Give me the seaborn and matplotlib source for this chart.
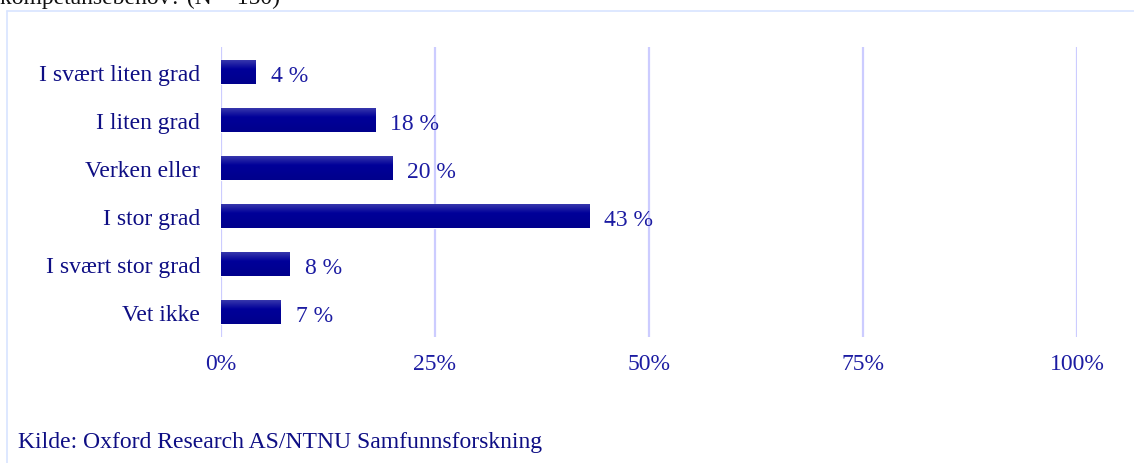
import matplotlib
matplotlib.use("Agg")
import matplotlib.pyplot as plt
from matplotlib.lines import Line2D
from matplotlib.colors import LinearSegmentedColormap
import numpy as np
import pandas as pd
import seaborn as sns

#%% Data

categories = ["I svært liten grad", "I liten grad", "Verken eller",
              "I stor grad", "I svært stor grad", "Vet ikke"]
values = [4, 18, 20, 43, 8, 7]
tick_values = [0, 25, 50, 75, 100]
tick_labels = ["0%", "25%", "50%", "75%", "100%"]
title_text = "kompetansebehov? (N = 150)"
source_text = "Kilde: Oxford Research AS/NTNU Samfunnsforskning"

df = pd.DataFrame({"kategori": categories, "andel": values})

#%% Style

sns.set_style("white")
plt.rcParams["font.family"] = ["Liberation Serif", "DejaVu Serif"]

label_col = "#0e0e84"
tick_col = "#1c1ca2"
grid_col = "#ccccff"
frame_col = "#d8e4ff"

fig = plt.figure(figsize=(11.34, 4.64), dpi=100)
ax = fig.add_axes([221 / 1134, 1 - 338 / 464, 856 / 1134, 290 / 464])

sns.barplot(data=df, x="andel", y="kategori", order=categories,
            color="#000099", width=0.5, orient="h", ax=ax, zorder=3)

# gradient fill on the bars (lighter top edge)
grad = LinearSegmentedColormap.from_list(
    "bar", [(0, "#3c3cae"), (0.4, "#000099"), (1, "#00008c")])
gimg = np.linspace(0, 1, 64).reshape(-1, 1)
for p in ax.patches:
    x0, y0 = p.get_x(), p.get_y()
    w, h = p.get_width(), p.get_height()
    im = ax.imshow(gimg, cmap=grad, aspect="auto",
                   extent=[x0, x0 + w, y0 + h, y0], zorder=4,
                   interpolation="bilinear")
    im.set_clip_path(p)
ax.set_xlim(0, 100)
ax.set_ylim(len(categories) - 0.48, -0.52)

# value labels
for i, v in enumerate(values):
    ax.annotate(f"{v} %", xy=(v, i), xytext=(11, -2.5), textcoords="offset points",
                va="center", ha="left", fontsize=17, color=tick_col, zorder=5)

for t in tick_values:
    ax.axvline(t, color=grid_col, lw=1.6, zorder=1)

ax.set_xticks(tick_values)
ax.set_xticklabels(tick_labels)
ax.tick_params(axis="x", length=0, pad=11.5, labelsize=17, labelcolor=tick_col)
ax.tick_params(axis="y", length=0, pad=15, labelsize=17, labelcolor=label_col)
ax.set_xlabel("")
ax.set_ylabel("")
for s in ax.spines.values():
    s.set_visible(False)

# outer frame (top + left only visible)
fig.add_artist(Line2D([6.5 / 1134, 6.5 / 1134], [0, 1 - 11.5 / 464],
                      color=frame_col, lw=1.2, transform=fig.transFigure))
fig.add_artist(Line2D([6.5 / 1134, 1], [1 - 11.5 / 464, 1 - 11.5 / 464],
                      color=frame_col, lw=1.2, transform=fig.transFigure))

# cut-off title at the very top and source line
fig.text(0, 1 - 4 / 464, title_text, fontsize=17, color="#111111",
         va="baseline", ha="left")
fig.text(18 / 1134, 1 - 443 / 464, source_text, fontsize=17, color=label_col,
         va="center", ha="left")

fig.savefig("out.png", dpi=100, facecolor="white")
